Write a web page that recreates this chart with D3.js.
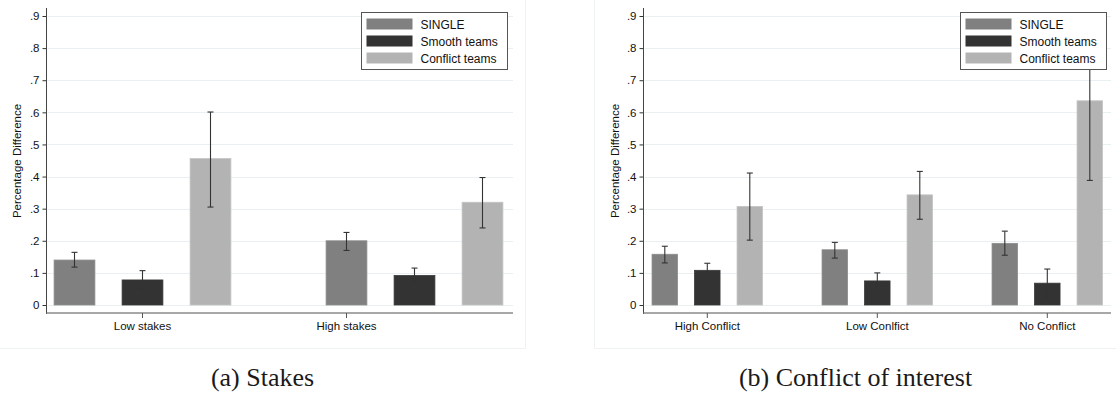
<!DOCTYPE html>
<html>
<head>
<meta charset="utf-8">
<script src="https://cdn.jsdelivr.net/npm/d3@7"></script>
<style>
  html, body { margin: 0; padding: 0; background: #fff; }
  svg { display: block; }
</style>
</head>
<body>
<svg id="chart" width="1116" height="396"></svg>
<script>
// ---- data ----
const seriesNames = ["SINGLE", "Smooth teams", "Conflict teams"];
const seriesColors = ["#808080", "#333333", "#b3b3b3"];

const yTicks = [0, 0.1, 0.2, 0.3, 0.4, 0.5, 0.6, 0.7, 0.8, 0.9];
const yTickLabels = ["0", ".1", ".2", ".3", ".4", ".5", ".6", ".7", ".8", ".9"];
const yTitle = "Percentage Difference";

// (a) stakes
const stakesGroups = ["Low stakes", "High stakes"];
const stakesLabelSlots = [1, 4];
const stakesMean = [[0.140, 0.078, 0.456], [0.200, 0.092, 0.320]];
const stakesLow  = [[0.118, 0.049, 0.305], [0.170, 0.071, 0.240]];
const stakesHigh = [[0.164, 0.107, 0.601], [0.226, 0.115, 0.397]];
const stakesCaption = "(a) Stakes";

// (b) conflict of interest
const conflictGroups = ["High Conflict", "Low Conlfict", "No Conflict"];
const conflictLabelSlots = [1, 5, 9];
const conflictMean = [[0.158, 0.108, 0.307], [0.172, 0.075, 0.343], [0.192, 0.068, 0.636]];
const conflictLow  = [[0.131, 0.085, 0.202], [0.146, 0.048, 0.267], [0.155, 0.021, 0.388]];
const conflictHigh = [[0.183, 0.130, 0.411], [0.195, 0.100, 0.416], [0.230, 0.112, 0.884]];
const conflictCaption = "(b) Conflict of interest";

// ---- drawing ----
const svg = d3.select("#chart");
const sans = "'Liberation Sans', Arial, Helvetica, sans-serif";

// y scale shared by both panels
const y = d3.scaleLinear().domain([0, 0.9]).range([305, 16]);

function drawPanel(cfg) {
  const g = svg.append("g");

  // panel frame (light)
  g.append("path")
    .attr("d", cfg.frame)
    .attr("fill", "none")
    .attr("stroke", "#eef2f2")
    .attr("stroke-width", 1);

  const nSlots = cfg.groups.length * 4 - 1;
  const x = d3.scaleLinear().domain([0, nSlots - 1]).range(cfg.slotRange);
  const slotW = (cfg.slotRange[1] - cfg.slotRange[0]) / (nSlots - 1);
  const barW = slotW * 0.6;

  // gridlines
  g.append("g").selectAll("line").data(yTicks).join("line")
    .attr("x1", cfg.left + 1).attr("x2", cfg.right)
    .attr("y1", d => Math.round(y(d)) + 0.5).attr("y2", d => Math.round(y(d)) + 0.5)
    .attr("stroke", "#e9f0f2").attr("stroke-width", 1.2);

  // y axis
  const yAxis = d3.axisLeft(y).tickValues(yTicks)
    .tickFormat((d, i) => yTickLabels[i]).tickSize(4).tickPadding(3);
  const ya = g.append("g").attr("transform", `translate(${cfg.left},0)`).call(yAxis);
  ya.select(".domain").remove();
  ya.selectAll(".tick line").attr("stroke", "#333");
  ya.selectAll(".tick text").attr("font-family", sans).attr("font-size", 11.5).attr("fill", "#111");
  g.append("line")
    .attr("x1", cfg.left).attr("x2", cfg.left).attr("y1", 8).attr("y2", 314)
    .attr("stroke", "#444").attr("stroke-width", 1);

  // y title
  g.append("text")
    .attr("transform", `translate(${cfg.titleX},${161}) rotate(-90)`)
    .attr("text-anchor", "middle")
    .attr("font-family", sans).attr("font-size", 11.5).attr("fill", "#111")
    .text(yTitle);

  // bars
  const bars = [];
  cfg.groups.forEach((grp, gi) => {
    seriesNames.forEach((s, si) => {
      bars.push({
        slot: gi * 4 + si, si,
        mean: cfg.mean[gi][si], lo: cfg.low[gi][si], hi: cfg.high[gi][si]
      });
    });
  });

  g.append("g").selectAll("rect").data(bars).join("rect")
    .attr("x", d => x(d.slot) - barW / 2)
    .attr("width", barW)
    .attr("y", d => y(d.mean))
    .attr("height", d => y(0) - y(d.mean))
    .attr("fill", d => seriesColors[d.si])
    .attr("stroke", d => d3.color(seriesColors[d.si]).brighter(0.25))
    .attr("stroke-width", 0.8);

  // error bars
  const eb = g.append("g").attr("stroke", "#333").attr("stroke-width", 1.1);
  eb.selectAll("line.v").data(bars).join("line").attr("class", "v")
    .attr("x1", d => x(d.slot)).attr("x2", d => x(d.slot))
    .attr("y1", d => y(d.lo)).attr("y2", d => y(d.hi));
  eb.selectAll("line.t").data(bars).join("line").attr("class", "t")
    .attr("x1", d => x(d.slot) - 3).attr("x2", d => x(d.slot) + 3)
    .attr("y1", d => y(d.hi)).attr("y2", d => y(d.hi));
  eb.selectAll("line.b").data(bars).join("line").attr("class", "b")
    .attr("x1", d => x(d.slot) - 3).attr("x2", d => x(d.slot) + 3)
    .attr("y1", d => y(d.lo)).attr("y2", d => y(d.lo));

  // x axis
  g.append("line")
    .attr("x1", cfg.left).attr("x2", cfg.right).attr("y1", 313).attr("y2", 313)
    .attr("stroke", "#8a8a8a").attr("stroke-width", 1.6);
  const xt = g.append("g").selectAll("g").data(cfg.groups).join("g")
    .attr("transform", (d, i) => `translate(${x(cfg.labelSlots[i])},0)`);
  xt.append("line").attr("y1", 313).attr("y2", 318).attr("stroke", "#555");
  xt.append("text").attr("y", 330).attr("text-anchor", "middle")
    .attr("font-family", sans).attr("font-size", 11.5).attr("fill", "#111")
    .text(d => d);

  // legend
  const lg = g.append("g").attr("transform", `translate(${cfg.legendX},12.5)`);
  lg.append("rect").attr("width", 146).attr("height", 57)
    .attr("fill", "#fff").attr("stroke", "#555").attr("stroke-width", 1);
  const items = lg.selectAll("g").data(seriesNames).join("g")
    .attr("transform", (d, i) => `translate(5,${6 + i * 17})`);
  items.append("rect").attr("width", 46).attr("height", 11)
    .attr("fill", (d, i) => seriesColors[i]);
  items.append("text").attr("x", 54).attr("y", 10)
    .attr("font-family", sans).attr("font-size", 12).attr("fill", "#111")
    .text(d => d);

  // caption
  svg.append("text")
    .attr("transform", `translate(${cfg.captionX},386)`)
    .attr("text-anchor", "middle")
    .attr("font-family", "'Liberation Serif', 'Times New Roman', serif")
    .attr("font-size", 26).attr("fill", "#1a1a1a")
    .text(cfg.caption);
}

drawPanel({
  groups: stakesGroups, labelSlots: stakesLabelSlots,
  mean: stakesMean, low: stakesLow, high: stakesHigh,
  left: 46.5, right: 513, slotRange: [74.5, 482.5],
  titleX: 21, legendX: 361.5, captionX: 262.5,
  frame: "M0,348.5H525.5V0",
  caption: stakesCaption
});

drawPanel({
  groups: conflictGroups, labelSlots: conflictLabelSlots,
  mean: conflictMean, low: conflictLow, high: conflictHigh,
  left: 643.5, right: 1111, slotRange: [664.8, 1089.8],
  titleX: 619, legendX: 960.5, captionX: 855.5,
  frame: "M594.5,0V348.5H1116",
  caption: conflictCaption
});
</script>
</body>
</html>
